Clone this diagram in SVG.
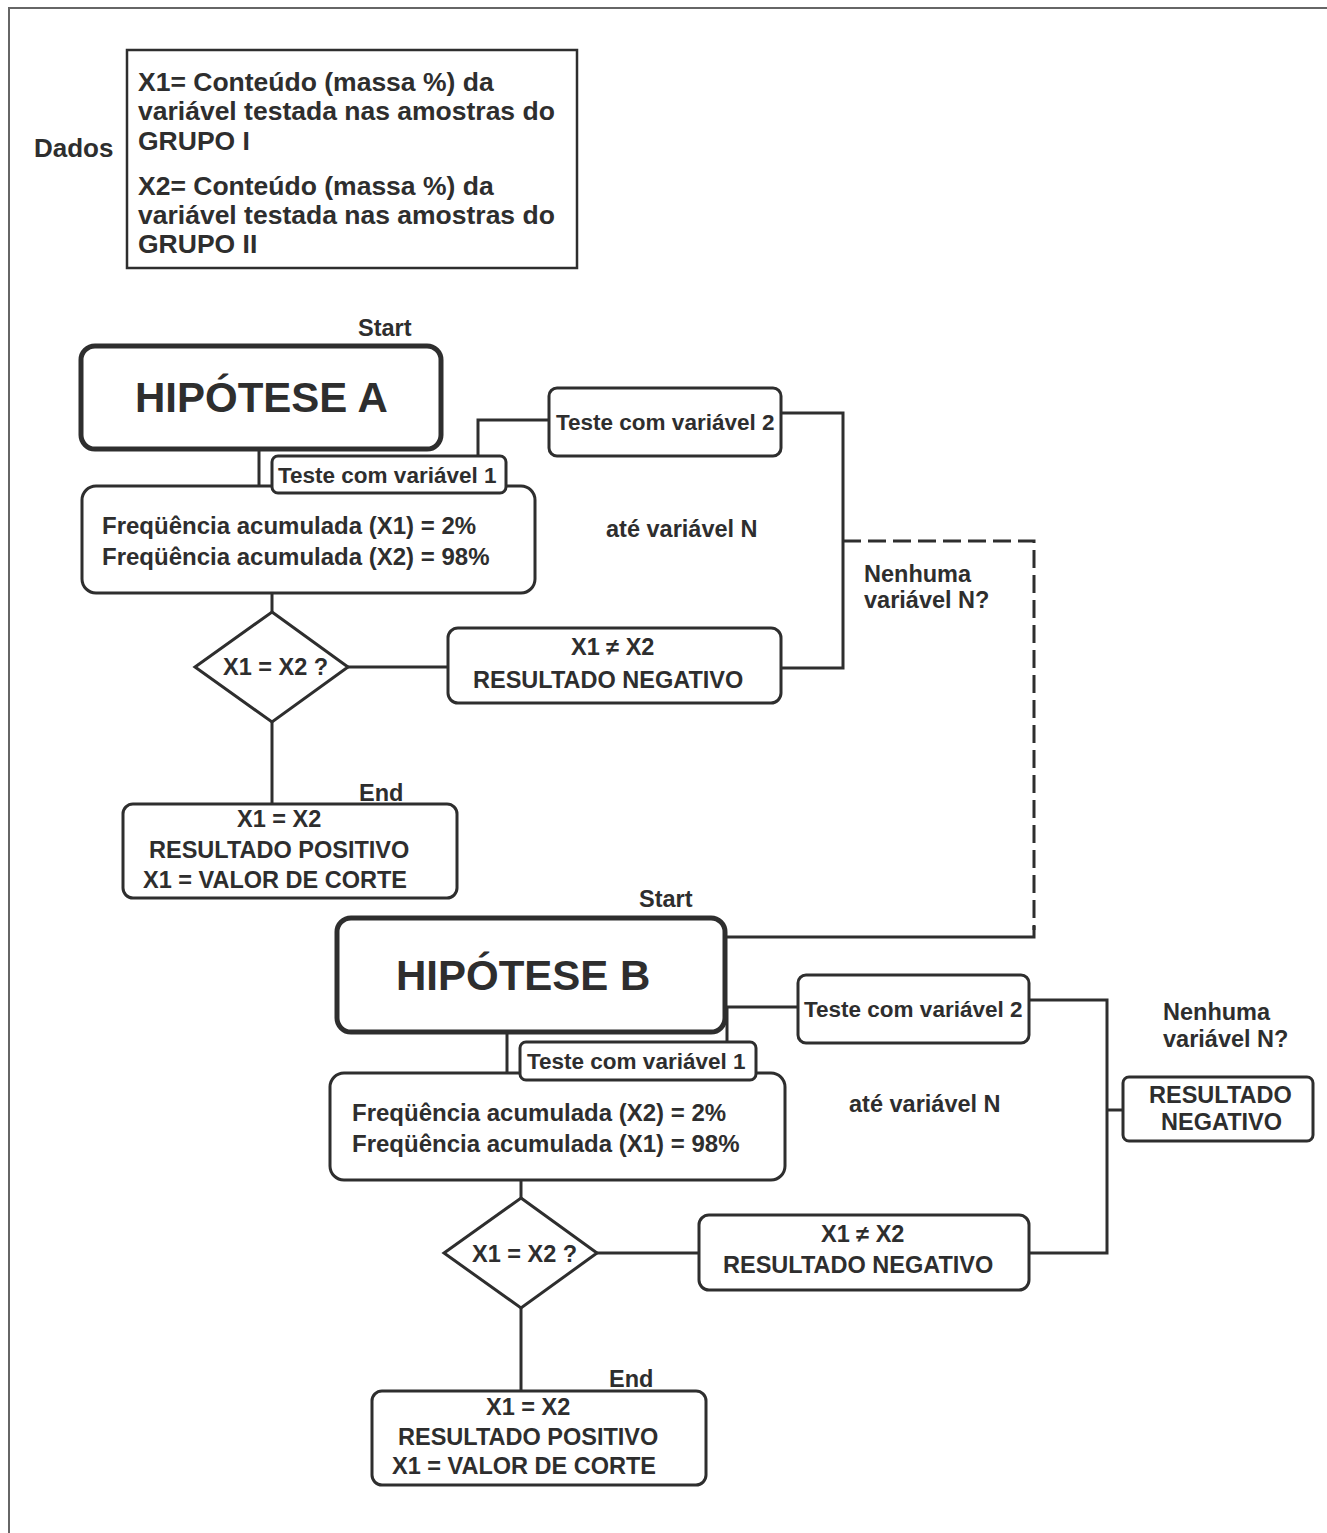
<svg xmlns="http://www.w3.org/2000/svg" width="1327" height="1533" viewBox="0 0 1327 1533">
<style>
.box{fill:#fff;stroke:#2e2e2e;stroke-width:3}
.hyp{fill:#fff;stroke:#2e2e2e;stroke-width:5}
.conn{fill:none;stroke:#2e2e2e;stroke-width:3}
.dash{fill:none;stroke:#2e2e2e;stroke-width:3;stroke-dasharray:18 7}
.t{font-family:"Liberation Sans",Arial,sans-serif;font-weight:bold;fill:#2e2e2e;font-size:23.5px}
.d{font-size:26.5px}
.h{font-size:42px}
.s{font-size:22.5px}
.f{font-size:24px}
</style>
<rect x="0" y="0" width="1327" height="1533" fill="#fff"/>
<path d="M9,1533 V8 H1327" fill="none" stroke="#666" stroke-width="2"/>

<g id="connectors">
  <path class="conn" d="M259,449 V487"/>
  <path class="conn" d="M478,456 V420 H549"/>
  <path class="conn" d="M780,413 H843 V668 H780"/>
  <path class="conn" d="M272,593 V612"/>
  <path class="conn" d="M348,667 H448"/>
  <path class="conn" d="M272,722 V804"/>
  <path class="dash" d="M843,541 H1034 V930"/>
  <path class="conn" d="M1034,926 V937 H725"/>
  <path class="conn" d="M507,1032 V1073"/>
  <path class="conn" d="M727,1042 V1007 H798"/>
  <path class="conn" d="M1029,1000 H1107 V1253 H1029"/>
  <path class="conn" d="M1107,1110 H1123"/>
  <path class="conn" d="M521,1180 V1198"/>
  <path class="conn" d="M597,1253 H699"/>
  <path class="conn" d="M521,1308 V1391"/>
</g>

<g id="labels">
  <text class="t" x="358" y="336">Start</text>
  <text class="t" x="606" y="537">até variável N</text>
  <text class="t" x="864" y="582">Nenhuma</text>
  <text class="t" x="864" y="608">variável N?</text>
  <text class="t" x="359" y="801">End</text>
  <text class="t" x="639" y="907">Start</text>
  <text class="t" x="849" y="1112">até variável N</text>
  <text class="t" x="1163" y="1020">Nenhuma</text>
  <text class="t" x="1163" y="1047">variável N?</text>
  <text class="t" x="609" y="1387">End</text>
</g>

<g id="dados">
  <text class="t" x="34" y="157" style="font-size:26px">Dados</text>
  <rect x="127" y="50" width="450" height="218" fill="#fff" stroke="#2e2e2e" stroke-width="2.5"/>
  <text class="t d" x="138" y="91">X1= Conteúdo (massa %) da</text>
  <text class="t d" x="138" y="120">variável testada nas amostras do</text>
  <text class="t d" x="138" y="150">GRUPO I</text>
  <text class="t d" x="138" y="195">X2= Conteúdo (massa %) da</text>
  <text class="t d" x="138" y="224">variável testada nas amostras do</text>
  <text class="t d" x="138" y="253">GRUPO II</text>
</g>

<g id="hipotese-a">
  <rect class="hyp" x="81" y="346" width="360" height="103" rx="14"/>
  <text class="t h" x="135" y="412">HIPÓTESE A</text>
</g>
<g id="freq-a">
  <rect class="box" x="82" y="486" width="453" height="107" rx="14"/>
  <text class="t f" x="102" y="534">Freqüência acumulada (X1) = 2%</text>
  <text class="t f" x="102" y="565">Freqüência acumulada (X2) = 98%</text>
</g>
<g id="teste1-a">
  <rect class="box" x="272" y="456" width="234" height="37" rx="6"/>
  <text class="t s" x="278" y="483">Teste com variável 1</text>
</g>
<g id="teste2-a">
  <rect class="box" x="549" y="388" width="232" height="68" rx="8"/>
  <text class="t s" x="556" y="430">Teste com variável 2</text>
</g>
<g id="decisao-a">
  <polygon class="box" points="272,612 348,667 272,722 195,667"/>
  <text class="t" x="223" y="675">X1 = X2 ?</text>
</g>
<g id="negativo-a">
  <rect class="box" x="448" y="628" width="333" height="75" rx="10"/>
  <text class="t" x="571" y="655">X1 ≠ X2</text>
  <text class="t" x="473" y="688">RESULTADO NEGATIVO</text>
</g>
<g id="positivo-a">
  <rect class="box" x="123" y="804" width="334" height="94" rx="10"/>
  <text class="t" x="237" y="827">X1 = X2</text>
  <text class="t" x="149" y="858">RESULTADO POSITIVO</text>
  <text class="t" x="143" y="888">X1 = VALOR DE CORTE</text>
</g>

<g id="hipotese-b">
  <rect class="hyp" x="337" y="918" width="388" height="114" rx="14"/>
  <text class="t h" x="396" y="990">HIPÓTESE B</text>
</g>
<g id="freq-b">
  <rect class="box" x="330" y="1073" width="455" height="107" rx="14"/>
  <text class="t f" x="352" y="1121">Freqüência acumulada (X2) = 2%</text>
  <text class="t f" x="352" y="1152">Freqüência acumulada (X1) = 98%</text>
</g>
<g id="teste1-b">
  <rect class="box" x="520" y="1042" width="236" height="38" rx="6"/>
  <text class="t s" x="527" y="1069">Teste com variável 1</text>
</g>
<g id="teste2-b">
  <rect class="box" x="798" y="975" width="231" height="68" rx="8"/>
  <text class="t s" x="804" y="1017">Teste com variável 2</text>
</g>
<g id="resultado-negativo-b">
  <rect class="box" x="1123" y="1077" width="190" height="64" rx="6"/>
  <text class="t" x="1149" y="1103">RESULTADO</text>
  <text class="t" x="1161" y="1130">NEGATIVO</text>
</g>
<g id="decisao-b">
  <polygon class="box" points="521,1198 597,1253 521,1308 444,1253"/>
  <text class="t" x="472" y="1262">X1 = X2 ?</text>
</g>
<g id="negativo-b">
  <rect class="box" x="699" y="1215" width="330" height="75" rx="10"/>
  <text class="t" x="821" y="1242">X1 ≠ X2</text>
  <text class="t" x="723" y="1273">RESULTADO NEGATIVO</text>
</g>
<g id="positivo-b">
  <rect class="box" x="372" y="1391" width="334" height="94" rx="10"/>
  <text class="t" x="486" y="1415">X1 = X2</text>
  <text class="t" x="398" y="1445">RESULTADO POSITIVO</text>
  <text class="t" x="392" y="1474">X1 = VALOR DE CORTE</text>
</g>
</svg>
